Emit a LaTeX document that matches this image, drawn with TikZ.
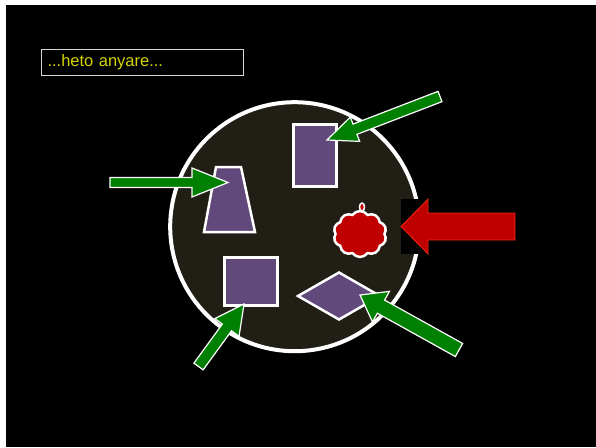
\documentclass[tikz,border=0pt]{standalone}
\usepackage{fontspec}
\setmainfont{Liberation Sans}
\usepackage{xcolor}
\usepackage{tikz}
\usetikzlibrary{calc,shapes.symbols}

\definecolor{cellfill}{RGB}{32,30,21}
\definecolor{partpurple}{RGB}{97,74,123}
\definecolor{arrowgreen}{RGB}{0,128,0}
\definecolor{arrowred}{RGB}{192,0,0}
\definecolor{arrowredline}{RGB}{235,40,20}
\definecolor{textyellow}{RGB}{212,212,0}
\definecolor{boxgray}{RGB}{215,215,215}

% block arrow: style, tail, tip, half shaft, half head, head length
\newcommand{\blockarrow}[6]{%
  \path ($(#3)!#6!(#2)$) coordinate (#3-back);
  \draw[#1] ($(#2)!#4!90:(#3)$) -- ($(#3-back)!#4!90:(#3)$) -- ($(#3-back)!#5!90:(#3)$) -- (#3)
    -- ($(#3-back)!#5!-90:(#3)$) -- ($(#3-back)!#4!-90:(#3)$) -- ($(#2)!#4!-90:(#3)$) -- cycle;
}

\begin{document}
\begin{tikzpicture}[x=1pt, y=-1pt,
    cellpart/.style={draw=white, line width=2.5pt, fill=partpurple},
    greenarrow/.style={draw=white, line width=1.2pt, fill=arrowgreen},
    redarrow/.style={draw=arrowredline, line width=0.8pt, fill=arrowred}]
    % Background
    \useasboundingbox (0,0) rectangle (596,447);
    \fill[white] (0,0) rectangle (596,447);
    \fill[black] (6,5) rectangle (596,447);

    % Title box
    \node[draw=boxgray, line width=1pt, anchor=north west, minimum width=202pt, minimum height=26pt,
          inner xsep=6pt, text width=190pt, align=left, text=textyellow,
          font=\fontsize{16.5}{18}\selectfont] (title) at (41,49) {...heto anyare...};

    % Cell
    \draw[white, line width=4pt, fill=cellfill] (294.7,226.7) circle (124.5);

    % Parts inside the cell
    \draw[cellpart] (216,167) -- (241,167) -- (255,232) -- (204,232) -- cycle;
    \draw[cellpart] (293.3,124.3) rectangle (336.7,186.7);
    \draw[cellpart] (224.3,257.3) rectangle (277.7,305.7);
    \draw[cellpart] (298,296) -- (339,272.5) -- (380,296) -- (339,319.5) -- cycle;

    % Red blob
    \node[cloud, cloud puffs=10, cloud puff arc=110, draw=white, line width=2.5pt, fill=arrowred,
          minimum width=53pt, minimum height=46pt, inner sep=0pt] (blob) at (360,234) {};
    \draw[white, line width=1.5pt, fill=arrowred] (362,207) ellipse (2.5 and 4);

    % Green arrows
    \coordinate (a1t) at (110,182.5);
    \coordinate (a1p) at (228,182.5);
    \coordinate (a2t) at (440,96.5);
    \coordinate (a2p) at (327,140);
    \coordinate (a3t) at (198.5,366.5);
    \coordinate (a3p) at (244,304);
    \coordinate (a4t) at (459,350);
    \coordinate (a4p) at (360,295);
    \blockarrow{greenarrow}{a1t}{a1p}{5pt}{14.5pt}{36pt}
    \blockarrow{greenarrow}{a2t}{a2p}{5.5pt}{13pt}{30pt}
    \blockarrow{greenarrow}{a3t}{a3p}{5.7pt}{15pt}{29pt}
    \blockarrow{greenarrow}{a4t}{a4p}{7.5pt}{17.5pt}{24pt}

    % Red arrow with its black patch
    \fill[black] (401,199) rectangle (427,254);
    \coordinate (rt) at (515,226.5);
    \coordinate (rp) at (401,226.5);
    \blockarrow{redarrow}{rt}{rp}{13.5pt}{27.5pt}{27pt}
\end{tikzpicture}
\end{document}
